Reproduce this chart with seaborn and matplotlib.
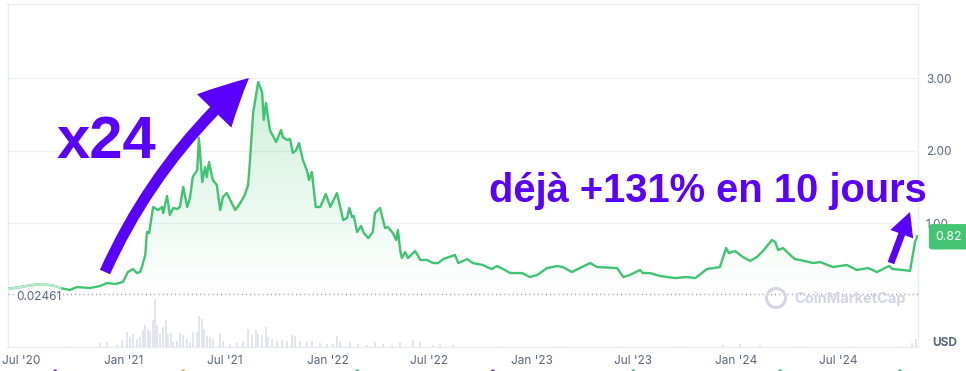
import numpy as np
import pandas as pd
import matplotlib
matplotlib.use("Agg")
import matplotlib.pyplot as plt
import matplotlib.dates as mdates
import seaborn as sns
from matplotlib.patches import FancyArrowPatch, ArrowStyle, Circle
from matplotlib.transforms import blended_transform_factory

# ---------------- data ----------------
ORIGIN = "2021-01-01"
price_days = [-208, -186, -163, -145, -123, -114, -106, -97, -84, -61, -43, -30, -16, -2,
              7, 16, 23, 29, 32, 38, 41, 45, 52, 61, 68, 70, 77, 82, 88, 95, 100, 106, 113,
              118, 123, 131, 134, 140, 145, 148, 152, 159, 166, 172, 177, 184, 190, 199, 208,
              216, 222, 225, 231, 240, 247, 250, 254, 261, 272, 281, 284, 292, 297, 302, 308,
              313, 320, 327, 331, 336, 343, 351, 361, 369, 381, 392, 399, 403, 408, 411, 417,
              424, 429, 437, 445, 449, 458, 467, 472, 481, 487, 490, 494, 497, 503, 508, 521,
              530, 542, 553, 562, 571, 592, 598, 614, 624, 642, 649, 658, 667, 678, 691, 712,
              726, 739, 757, 775, 785, 801, 819, 834, 846, 882, 893, 905, 923, 928, 941, 959,
              986, 1007, 1022, 1043, 1066, 1077, 1082, 1093, 1107, 1120, 1132, 1143, 1159,
              1165, 1170, 1179, 1188, 1200, 1209, 1233, 1245, 1268, 1281, 1293, 1311, 1331,
              1347, 1361, 1369, 1374, 1394, 1406, 1415, 1419]
price_usd = [0.090, 0.117, 0.145, 0.159, 0.131, 0.103, 0.090, 0.076, 0.117, 0.103, 0.131,
             0.172, 0.159, 0.186, 0.324, 0.366, 0.310, 0.324, 0.393, 0.559, 0.876, 0.862,
             1.221, 1.179, 1.221, 1.138, 1.372, 1.110, 1.207, 1.193, 1.221, 1.497, 1.221,
             1.345, 1.634, 1.731, 2.172, 1.566, 1.772, 1.634, 1.841, 1.593, 1.524, 1.179,
             1.359, 1.414, 1.317, 1.179, 1.276, 1.386, 1.524, 1.828, 2.517, 2.945, 2.807,
             2.421, 2.655, 2.283, 2.117, 2.283, 2.186, 2.145, 2.159, 1.966, 2.007, 2.103,
             1.869, 1.731, 1.593, 1.703, 1.221, 1.221, 1.400, 1.221, 1.414, 1.041, 1.069,
             1.207, 1.083, 1.097, 0.876, 0.959, 0.862, 0.793, 0.876, 1.138, 1.207, 0.931,
             0.945, 0.862, 0.766, 0.903, 0.628, 0.517, 0.600, 0.517, 0.614, 0.490, 0.490,
             0.448, 0.448, 0.503, 0.559, 0.448, 0.503, 0.448, 0.421, 0.393, 0.366, 0.407,
             0.366, 0.310, 0.310, 0.255, 0.283, 0.379, 0.407, 0.393, 0.324, 0.393, 0.448,
             0.393, 0.379, 0.255, 0.283, 0.352, 0.310, 0.310, 0.269, 0.241, 0.255, 0.241,
             0.366, 0.393, 0.655, 0.586, 0.614, 0.531, 0.476, 0.531, 0.614, 0.766, 0.738,
             0.628, 0.655, 0.586, 0.503, 0.490, 0.448, 0.462, 0.393, 0.407, 0.421, 0.352,
             0.379, 0.324, 0.379, 0.407, 0.366, 0.352, 0.338, 0.738, 0.821]
faded_until_day = -114          # early part of the line drawn paler

volume_days = [-163, -97, -43, -30, -13, -4, 5, 11, 16, 23, 29, 34, 38, 43, 47, 52, 55, 59,
               64, 70, 75, 79, 84, 88, 95, 100, 106, 113, 118, 123, 131, 134, 140, 143, 148,
               154, 159, 172, 177, 190, 202, 213, 222, 229, 236, 240, 247, 254, 258, 265,
               274, 283, 292, 301, 306, 315, 327, 336, 351, 363, 374, 381, 386, 404, 419,
               435, 449, 463, 479, 494, 517, 530, 553, 565, 589, 673, 780, 887, 995, 1072,
               1102, 1138, 1209, 1299, 1388, 1410, 1417]
volume_rel = [0.5, 1, 4, 5, 2, 7, 15, 10, 13, 8, 10, 17, 22, 18, 16, 27, 48, 22, 13, 20, 27,
              13, 14, 5, 6, 14, 12, 8, 5, 15, 15, 31, 28, 18, 11, 10, 8, 14, 6, 3, 4, 6, 18,
              12, 17, 13, 12, 20, 10, 8, 6, 7, 6, 12, 11, 6, 5, 6, 4, 3, 3, 11, 5, 5, 3, 2,
              5, 3, 2, 5, 7, 5, 2, 3, 2, 1, 1, 1, 1, 2.5, 3, 2.5, 1, 1, 1.5, 4, 8]

event_days = [-123, 106, 417, 660, 911, 1174, 1388]
event_kind = ["purple", "orange", "green", "purple", "green", "green", "green"]

tick_dates = ["2020-07-01", "2021-01-01", "2021-07-01", "2022-01-01", "2022-07-01",
              "2023-01-01", "2023-07-01", "2024-01-01", "2024-07-01"]
ytick_vals = [1, 2, 3]
atl_value = 0.02461
last_price = 0.82
x_range_days = [-208.4, 1419.4]
price_range = [-0.710, 4.021]
title_left = "x24"
title_right = "déjà +131% en 10 jours"

# ---------------- styling ----------------
W, H = 966, 371
GREEN = "#3fc471"
PURPLE = "#5a00ff"
GRAY = "#58667e"
GRID = "#eef0f4"
EVENT_COLORS = {"purple": "#6a1fff", "orange": "#f5a623", "green": "#16c784"}

sns.set_style("white")
plt.rcParams["font.family"] = ["Inter", "DejaVu Sans"]

origin = pd.Timestamp(ORIGIN)
dates = origin + pd.to_timedelta(price_days, unit="D")
vdates = origin + pd.to_timedelta(volume_days, unit="D")
edates = origin + pd.to_timedelta(event_days, unit="D")
df = pd.DataFrame({"date": dates, "price": price_usd})

fig = plt.figure(figsize=(W / 100, H / 100), dpi=100)


def fx(px):
    return px / W


def fy(py):
    return 1 - py / H


ax = fig.add_axes([fx(7.5), fy(347), (917.5 - 7.5) / W, 343 / H])

# volume on a twin axis
ax2 = ax.twinx()
ax2.bar(vdates, volume_rel, width=3.2, color="#e3e4ef", linewidth=0)
ax2.set_ylim(0, 343)
ax2.set_yticks([])
for s in ax2.spines.values():
    s.set_visible(False)

# price line
sns.lineplot(data=df, x="date", y="price", ax=ax, color=GREEN, lw=1.7, zorder=5)
early = df[df["date"] <= origin + pd.Timedelta(days=faded_until_day)]
sns.lineplot(data=early, x="date", y="price", ax=ax, color="#b8e9c8", lw=1.7, zorder=6)

# gradient fill under the line
xnum = mdates.date2num(df["date"])
poly = ax.fill_between(df["date"], df["price"], atl_value, color="none", lw=0)
grad = np.zeros((256, 1, 4))
grad[:, 0, :3] = matplotlib.colors.to_rgb(GREEN)
grad[:, 0, 3] = np.linspace(0.26, 0.0, 256)
im = ax.imshow(grad, extent=[xnum.min(), xnum.max(), atl_value, max(price_usd)],
               origin="upper", aspect="auto", zorder=2, interpolation="bilinear")
im.set_clip_path(poly.get_paths()[0], transform=ax.transData)

# dotted all-time-low line + label
ax.axhline(atl_value, color="#8a93a6", lw=1, ls=(0, (0.7, 2.3)), zorder=4)
blend = blended_transform_factory(ax.transAxes, ax.transData)
ax.annotate(f"{atl_value:.5f}", xy=(0, atl_value), xycoords=blend, xytext=(6.5, -2.6),
            textcoords="offset points", ha="left", va="center", fontsize=8.5, color=GRAY,
            bbox=dict(fc="white", ec="none", pad=1.2), zorder=7)

# axes limits / ticks
ax.set_xlim(origin + pd.Timedelta(days=x_range_days[0]), origin + pd.Timedelta(days=x_range_days[1]))
ax.set_ylim(*price_range)
ax.set_xlabel("")
ax.set_ylabel("")
ax.yaxis.tick_right()
ax.set_yticks(ytick_vals)
ax.yaxis.set_major_formatter(matplotlib.ticker.FormatStrFormatter("%.2f"))
ax.set_xticks(pd.to_datetime(tick_dates))
ax.xaxis.set_major_formatter(mdates.DateFormatter("%b '%y"))
ax.tick_params(axis="y", length=0, pad=6, labelsize=8.5, labelcolor=GRAY)
ax.tick_params(axis="x", length=0, pad=5.5, labelsize=8.5, labelcolor=GRAY)
ax.grid(axis="y", color=GRID, lw=1)
ax.grid(axis="x", visible=False)
for s in ax.spines.values():
    s.set_visible(True)
    s.set_color("#e9ecf1")
    s.set_linewidth(1)

# last price badge
ax.annotate(f"{last_price:.2f}", xy=(1, last_price), xycoords=blend, xytext=(13.0, -0.5),
            textcoords="offset points", ha="left", va="center", fontsize=8.8, color="white",
            annotation_clip=False, zorder=8,
            bbox=dict(boxstyle="round,pad=0.55,rounding_size=0.3", fc="#45c574", ec="none"))

# USD label
fig.text(fx(945), fy(343), "USD", ha="center", va="center", fontsize=8.5,
         fontweight="bold", color=GRAY)

# event markers at very bottom (mostly cut off)
ax.scatter(mdates.date2num(edates), [-0.0715] * len(edates),
           transform=blended_transform_factory(ax.transData, ax.transAxes),
           c=[EVENT_COLORS[k] for k in event_kind], s=9, clip_on=False, zorder=9, lw=0)

# watermark
ring = Circle((776, H - 298), 9.5, transform=None, fill=False, ec="#d3d4e8", lw=2.2)
fig.add_artist(ring)
fig.text(fx(794), fy(299), "CoinMarketCap", ha="left", va="center", fontsize=10.5,
         fontweight="bold", color="#d3d4e8", zorder=1)

# annotations
fig.text(fx(57), fy(158), title_left, ha="left", va="baseline", fontsize=43,
         fontweight="bold", color=PURPLE, family="Liberation Sans")
fig.text(fx(489), fy(202), title_right, ha="left", va="baseline", fontsize=28.7,
         fontweight="bold", color=PURPLE, family="Liberation Sans")

big = FancyArrowPatch((fx(105), fy(272)), (fx(249), fy(78)), transform=fig.transFigure,
                      connectionstyle="arc3,rad=-0.11",
                      arrowstyle=ArrowStyle.Simple(head_length=34.5, head_width=34.5, tail_width=8),
                      mutation_scale=1, shrinkA=0, shrinkB=0, fc=PURPLE, ec="none", zorder=10)
fig.add_artist(big)
small = FancyArrowPatch((fx(891), fy(263)), (fx(910), fy(212)), transform=fig.transFigure,
                        arrowstyle=ArrowStyle.Simple(head_length=17, head_width=17.5, tail_width=5),
                        mutation_scale=1, shrinkA=0, shrinkB=0, fc=PURPLE, ec="none", zorder=10)
fig.add_artist(small)

fig.savefig("out.png", dpi=100)
